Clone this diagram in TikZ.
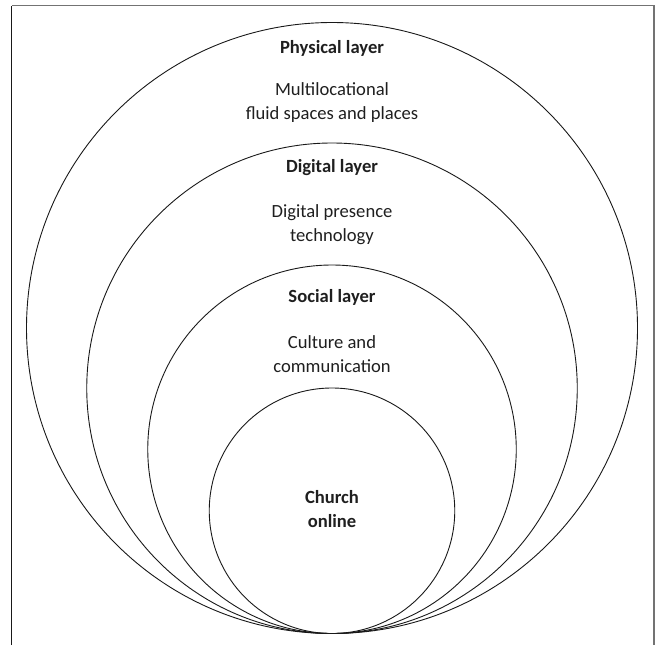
\documentclass[tikz,border=0pt]{standalone}
\usepackage{fontspec}
\setmainfont{Carlito}
\begin{document}
\begin{tikzpicture}[x=1pt,y=-1pt,
  ring/.style={circle,draw=black!90,line width=0.9pt,inner sep=0pt},
  lbl/.style={font=\fontsize{18.6}{24}\selectfont,align=center,text=black!88,inner sep=0pt},
  ttl/.style={lbl,font=\fontsize{18.6}{24}\selectfont\bfseries},
  framegray/.style={draw=black!55,line width=1.4pt},
  frameblack/.style={draw=black!90,line width=1.1pt}]
\useasboundingbox (0,0) rectangle (660,645);
% open frame
\coordinate (fbl) at (11.7,645);
\coordinate (ftl) at (11.7,5.5);
\coordinate (ftr) at (654,5.5);
\coordinate (fbr) at (654,645);
\draw[framegray] (ftl) -- (ftr) -- (fbr);
\draw[frameblack] (fbl) -- (ftl);
% tangent circles
\node[ring,minimum size=611pt]   (physical) at (332,328) {};
\node[ring,minimum size=490.5pt] (digital)  at (332,388.25) {};
\node[ring,minimum size=368.5pt] (social)   at (332,449.25) {};
\node[ring,minimum size=245.5pt] (church)   at (332,510.75) {};
% labels
\node[ttl] (tphys) at (332,48) {Physical layer};
\node[lbl] (dphys) at (332,103) {Multilocational\\fluid spaces and places};
\node[ttl] (tdig) at (332,168) {Digital layer};
\node[lbl] (ddig) at (332,225) {Digital presence\\technology};
\node[ttl] (tsoc) at (332,297) {Social layer};
\node[lbl] (dsoc) at (332,354) {Culture and\\communication};
\node[ttl] (tch) at (332,509) {Church\\online};
\end{tikzpicture}
\end{document}
